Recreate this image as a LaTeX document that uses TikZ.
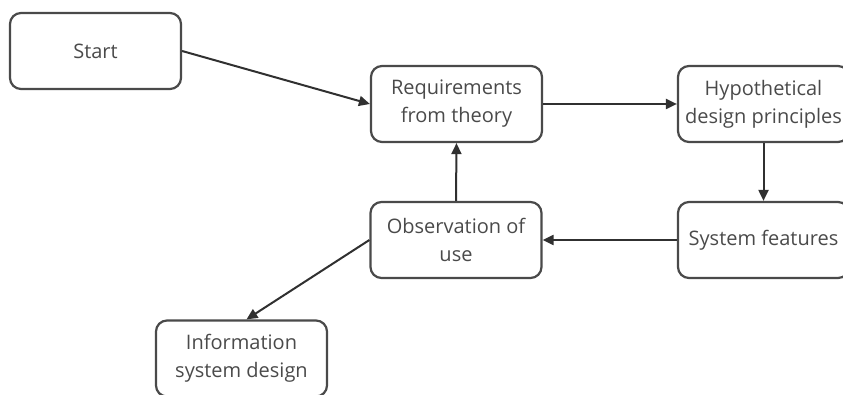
\documentclass[tikz,border=0pt]{standalone}
\usepackage{fontspec}
\setmainfont{Open Sans}
\usetikzlibrary{arrows.meta}
\definecolor{boxline}{HTML}{4A4A4A}
\definecolor{txt}{HTML}{4A4A4A}
\definecolor{arr}{HTML}{303030}
\begin{document}
\begin{tikzpicture}[x=1pt,y=-1pt,
  stage/.style={draw=boxline, line width=2.2pt, rounded corners=11pt,
    minimum width=171pt, minimum height=76pt, align=center,
    text=txt, font=\fontsize{20}{28}\selectfont, inner sep=0pt},
  flow/.style={draw=arr, line width=2pt,
    -{Triangle[length=11pt,width=10pt]}}]
\useasboundingbox (0,0) rectangle (843,395);
\clip (0,0) rectangle (843,395);
\node[stage] (start) at (95.5,51) {Start};
\node[stage] (req) at (456.5,104) {Requirements\\from theory};
\node[stage] (hyp) at (763.5,104) {Hypothetical\\design principles};
\node[stage] (sys) at (763.5,240) {System features};
\node[stage] (obs) at (456,240) {Observation of\\use};
\node[stage] (info) at (241.5,358.5) {Information\\system design};
\draw[flow] (start.east) -- (req.west);
\draw[flow] (req.east) -- (hyp.west);
\draw[flow] (hyp.south) -- (sys.north);
\draw[flow] (sys.west) -- (obs.east);
\draw[flow] (obs.north) -- (req.south);
\draw[flow] (obs.west) -- ([xshift=5pt]info.north);
\end{tikzpicture}
\end{document}
